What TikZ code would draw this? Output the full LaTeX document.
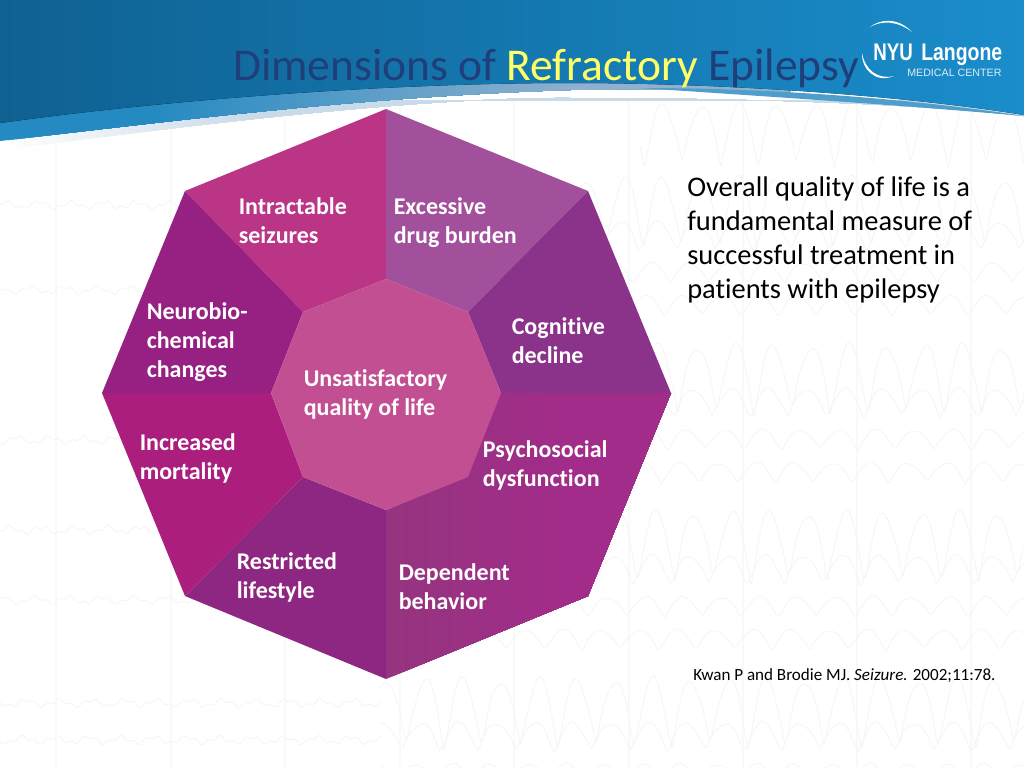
\documentclass[tikz,border=0pt]{standalone}
\usepackage{graphicx}
\usepackage{fontspec}
\setmainfont{Carlito}[Ligatures=NoCommon]
\newfontfamily\logofont{Liberation Sans}

\definecolor{titleblue}{HTML}{1F3F7A}
\definecolor{titleyellow}{HTML}{FFFF66}
\definecolor{bandleft}{HTML}{0F6192}
\definecolor{bandright}{HTML}{1A8DCB}
\definecolor{swooshblue}{HTML}{258AC2}
\definecolor{swooshsteel}{HTML}{8FB0CE}
\definecolor{swooshpale}{HTML}{C9DAE8}
\definecolor{segintract}{HTML}{BB3587}
\definecolor{segdrug}{HTML}{A2509C}
\definecolor{segcogn}{HTML}{8B328B}
\definecolor{segpsych}{HTML}{A12C89}
\definecolor{segdepl}{HTML}{95347F}
\definecolor{segrestr}{HTML}{8E2781}
\definecolor{segmort}{HTML}{AB1E7E}
\definecolor{segneuro}{HTML}{962182}
\definecolor{segcentre}{HTML}{C34F93}

\tikzset{
    seglabel/.style={anchor=base west, inner sep=0pt, align=left, text=white,
        font=\fontsize{18}{21.75}\selectfont\bfseries},
    bodytext/.style={anchor=base west, inner sep=0pt, align=left, text=black,
        font=\fontsize{21.33}{25.5}\selectfont},
    eegline/.style={draw=black!4, line width=0.6pt, line join=round},
    gridline/.style={draw=black!2.5, line width=0.8pt}
}

\newcommand{\eegwave}[4]{%
    \draw[eegline] plot[domain=#1:1024, samples=230, smooth]
        (\x, {#2 - #3*(2*abs(sin(\x*4.74+#4))-1) + 0.12*#3*sin(\x*13+#4)});
}

\begin{document}
\begin{tikzpicture}[x=0.75pt, y=-0.75pt]
    \useasboundingbox (0,0) rectangle (1024,768);
    \fill[white] (0,0) rectangle (1024,768);

    % Faint Background Trace
    \foreach \xx in {56,171,285,400,514,629,743,857,971}
        \draw[gridline] (\xx,100) -- (\xx,768);
    \foreach \yy/\pp in {213/10,380/25,547/40,714/55} {
        \eegwave{380}{\yy}{34}{\pp}
        \eegwave{380}{\yy+23}{14}{\pp+20}
        \eegwave{380}{\yy+60}{10}{\pp+50}
        \eegwave{380}{\yy+93}{10}{\pp+80}
    }
    \eegwave{640}{135}{30}{5}
    \foreach \yy in {205,290,440,530,600,703,740}
        \draw[eegline] plot[domain=0:380, samples=120, smooth] (\x, {\yy + 3*sin(\x*11+\yy) + 2*sin(\x*29)});

    % Swoosh Layers
    \begin{scope}
        \clip (0,150) -- (0,100) -- (1024,100) -- (1024,116)
            .. controls (900,102) and (720,98) .. (570,98)
            .. controls (420,97) and (200,124) .. (0,150) -- cycle;
        \foreach \xx in {0,8,...,1016} {
            \pgfmathsetmacro\mixx{min(100,\xx/2.5)}
            \fill[swooshpale!\mixx!white] (\xx,60) rectangle (1024,160);
        }
    \end{scope}
    \begin{scope}
        \clip (0,100) -- (790,70) -- (790,94) .. controls (700,90) and (640,88) .. (570,90)
            .. controls (350,97) and (150,124) .. (0,141) -- cycle;
        \foreach \xx in {0,8,...,784} {
            \pgfmathsetmacro\mixx{max(0,min(100,(\xx-150)/4.2))}
            \fill[swooshsteel!\mixx!swooshblue] (\xx,60) rectangle (1024,160);
        }
    \end{scope}
    \fill[swooshblue!75!swooshpale]
        (640,88) .. controls (760,88) and (900,97) .. (1024,116)
        .. controls (900,105) and (760,96) .. (640,88) -- cycle;

    % Top Band
    \fill[left color=bandleft, right color=bandright]
        (0,0) -- (1024,0) -- (1024,115)
        .. controls (900,95) and (720,83) .. (570,83)
        .. controls (400,83) and (180,98) .. (0,123) -- cycle;

    % Title
    \node[anchor=base west, inner sep=0pt, text=titleblue,
        font=\fontsize{34.1}{40}\selectfont] (title) at (233,80)
        {Dimensions of \textcolor{titleyellow}{Refractory} Epilepsy};

    % Logo
    \fill[white] (870,27) .. controls (880,19) and (898,17) .. (912,32)
        .. controls (898,21) and (882,20) .. (870,27) -- cycle;
    \fill[white] (862,53) .. controls (861,68) and (875,84) .. (894,76)
        .. controls (878,80) and (865,70) .. (862,53) -- cycle;
    \node[anchor=base west, inner sep=0pt, text=white, font=\logofont\bfseries\fontsize{18}{18}\selectfont]
        (logonyu) at (873,60) {\scalebox{0.78}[1]{NYU}};
    \node[anchor=base west, inner sep=0pt, text=white, font=\logofont\bfseries\fontsize{18}{18}\selectfont]
        (logolangone) at (921,60) {\scalebox{0.81}[1]{Langone}};
    \node[anchor=base west, inner sep=0pt, text=white!85!bandright, font=\logofont\fontsize{8}{8}\selectfont]
        (logomedical) at (907,76) {MEDICAL CENTER};

    % Octagon Corners
    \coordinate (oN) at (386,109);
    \coordinate (oNE) at (588,191);
    \coordinate (oE) at (671,393);
    \coordinate (oSE) at (588,596);
    \coordinate (oS) at (386,679);
    \coordinate (oSW) at (185,596);
    \coordinate (oW) at (102,393);
    \coordinate (oNW) at (185,191);

    \coordinate (iN) at (386,279);
    \coordinate (iNE) at (468,312);
    \coordinate (iE) at (501,393);
    \coordinate (iSE) at (468,477);
    \coordinate (iS) at (386,510);
    \coordinate (iSW) at (303,477);
    \coordinate (iW) at (271,393);
    \coordinate (iNW) at (303,312);

    % Octagon Segments
    \fill[segintract] (oN) -- (oNW) -- (iNW) -- (iN) -- cycle;
    \fill[segdrug] (oN) -- (oNE) -- (iNE) -- (iN) -- cycle;
    \fill[segcogn] (oNE) -- (oE) -- (iE) -- (iNE) -- cycle;
    \begin{scope}
        \clip (oE) -- (oSE) -- (oS) -- (iS) -- (iSE) -- (iE) -- cycle;
        \foreach \xx in {386,392,...,560} {
            \pgfmathsetmacro\mixx{min(100,(\xx-386)/1.74)}
            \fill[segpsych!\mixx!segdepl] (\xx,380) rectangle (680,690);
        }
    \end{scope}
    \fill[segrestr] (oS) -- (oSW) -- (iSW) -- (iS) -- cycle;
    \fill[segmort] (oSW) -- (oW) -- (iW) -- (iSW) -- cycle;
    \fill[segneuro] (oW) -- (oNW) -- (iNW) -- (iW) -- cycle;
    \fill[segcentre] (iN) -- (iNE) -- (iE) -- (iSE) -- (iS) -- (iSW) -- (iW) -- (iNW) -- cycle;

    % Segment Labels
    \node[seglabel] (intract) at (238.5,243.5) {Intractable\\seizures};
    \node[seglabel] (drug) at (393.5,243.5) {Excessive\\drug burden};
    \node[seglabel] (cogn) at (511.5,363.5) {Cognitive\\decline};
    \node[seglabel] (psych) at (482.5,486.5) {Psychosocial\\dysfunction};
    \node[seglabel] (depend) at (398.5,609.5) {Dependent\\behavior};
    \node[seglabel] (restr) at (236.5,598.5) {Restricted\\lifestyle};
    \node[seglabel] (mort) at (139.5,479.5) {Increased\\mortality};
    \node[seglabel] (neuro) at (146.5,377.5) {Neurobio-\\chemical\\changes};
    \node[seglabel] (centre) at (303.5,415.5) {Unsatisfactory\\quality of life};

    % Side Text
    \node[bodytext] (overall) at (687,298) {Overall quality of life is a\\fundamental measure of\\successful treatment in\\patients with epilepsy};
    \node[anchor=base west, inner sep=0pt, text=black, font=\fontsize{12.8}{15}\selectfont]
        (cite) at (693,680) {Kwan P and Brodie MJ. \textit{Seizure.} 2002;11:78.};
\end{tikzpicture}
\end{document}
